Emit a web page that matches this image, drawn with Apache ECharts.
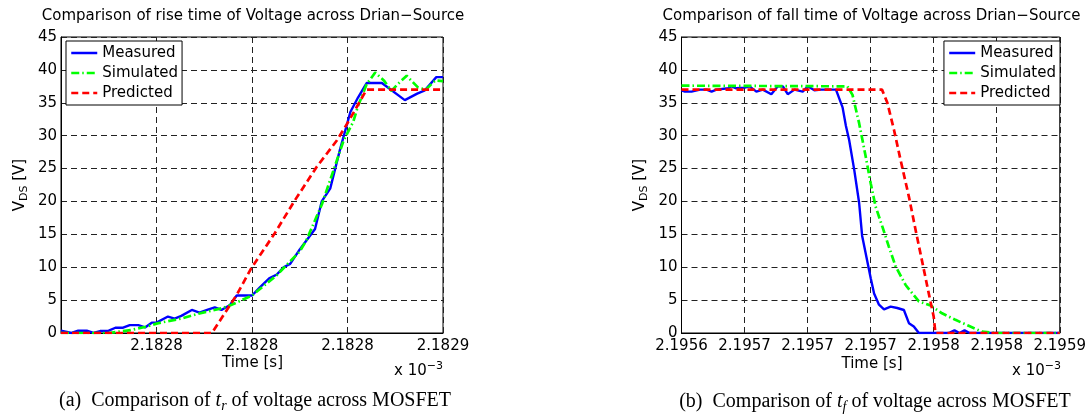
<!DOCTYPE html>
<html><head><meta charset="utf-8">
<script src="https://cdn.jsdelivr.net/npm/echarts@6/dist/echarts.min.js"></script>
<style>html,body{margin:0;padding:0;background:#fff}#c{width:1089px;height:416px}</style>
</head><body><div id="c"></div>
<script>
// ---------- data ----------
// time offsets in ns from the left edge of each panel, voltage in V
const riseTickTimes = [0, 10, 20, 30, 40];
const riseTickLabels = ['', '2.1828', '2.1828', '2.1828', '2.1829'];
const fallTickTimes = [0, 40, 80, 120, 160, 200, 240];
const fallTickLabels = ['2.1956', '2.1957', '2.1957', '2.1957', '2.1958', '2.1958', '2.1959'];
const seriesNames = ['Measured', 'Simulated', 'Predicted'];

const riseMeasured = [[0,0.35],[1.1,0],[1.8,0.35],[2.7,0.35],[3.4,0],[4.1,0.3],[5.0,0.35],[5.7,0.8],[6.5,0.8],[7.2,1.2],[8.1,1.2],[8.8,0.85],[9.5,1.57],[10.0,1.57],[11.2,2.5],[11.9,2.2],[12.6,2.6],[13.7,3.5],[14.5,3.1],[15.3,3.5],[16.1,3.9],[16.8,3.5],[17.7,4.25],[18.4,5.7],[20.0,5.7],[20.8,6.9],[21.8,8.3],[22.6,8.9],[23.3,10.0],[24.0,10.5],[25.0,12.7],[26.6,15.8],[27.3,20.0],[28.2,22.0],[29.2,27.8],[30.3,33.6],[31.1,35.8],[32.0,38.0],[33.6,38.0],[36.0,35.4],[37.3,36.4],[38.1,36.9],[39.3,38.9],[40,38.9]];
const riseSimulated = [[0,0],[5.0,0],[7.3,0.45],[8.9,0.96],[10.1,1.47],[12.6,2.2],[14.3,2.9],[16.8,3.75],[17.8,4.25],[20.0,5.7],[22.6,8.8],[25.0,12.4],[25.7,14.1],[27.3,19.5],[28.2,23.3],[29.6,29.3],[30.6,32.1],[31.1,34.5],[32.0,37.8],[32.9,39.6],[33.8,38.4],[34.6,36.8],[35.3,37.9],[36.2,39.1],[37.4,37.3],[38.2,37.0],[39.2,38.4],[40,38.3]];
const risePredicted = [[0,0],[15.8,0],[18.4,5.8],[19.9,9.8],[22.4,15.2],[24.5,20.2],[26.8,25.3],[28.9,29.3],[30.2,32.4],[32.0,37.0],[40,37.0]];

const fallMeasured = [[0,36.9],[2.2,36.7],[6.4,36.7],[11.7,37.0],[15.9,37.0],[19.1,36.7],[22.2,37.0],[29.6,37.2],[31.7,37.5],[34.8,37.2],[40.1,37.3],[43.2,37.5],[47.5,36.7],[51.6,37.0],[57.0,36.3],[61.1,37.5],[64.3,37.5],[67.4,36.3],[71.7,37.0],[76.9,36.7],[80.1,37.5],[84.3,36.9],[88.5,37.0],[98.0,37.0],[102.2,34.3],[104.3,31.5],[106.4,29.3],[109.6,24.8],[112.7,19.8],[114.6,14.8],[120.1,8.3],[122.2,6.0],[125.3,4.3],[128.5,3.6],[132.7,4.0],[136.9,3.8],[141.1,3.5],[144.3,1.5],[147.4,1.0],[150.6,0],[169.6,0],[173.2,0.4],[176.4,0],[179.6,0.4],[182.8,0],[240,0]];
const fallSimulated = [[0,37.6],[105.3,37.5],[108.5,36.2],[112.7,31.9],[116.9,26.8],[120.1,22.7],[123.2,19.2],[127.4,16.2],[131.6,13.1],[135.9,10.1],[142.2,7.3],[150.6,4.8],[158.0,4.2],[165.3,3.0],[173.8,2.0],[182.2,1.1],[190.6,0.2],[199.0,0],[240,0]];
const fallPredicted = [[0,37.0],[127.2,37.0],[130.6,35.0],[134.8,30.9],[139.0,26.3],[144.3,20.7],[148.5,15.7],[153.8,9.6],[156.9,6.0],[160.0,2.5],[161.1,0],[240,0]];

// ---------- chart ----------
const SANS = 'DejaVu Sans';
const SERIF = 'Liberation Serif';
const FS = 15;

function tickFormatter(times, labels) {
  return function (v) {
    const i = times.findIndex(t => Math.abs(t - v) < 1e-6);
    return i >= 0 ? labels[i] : '';
  };
}
function xAxisFor(gi, times, labels) {
  return {
    type: 'value', gridIndex: gi, min: times[0], max: times[times.length - 1],
    interval: times[1] - times[0],
    axisLine: { show: true, onZero: false, lineStyle: { color: '#000', width: 1 } },
    axisTick: { show: false },
    axisLabel: { color: '#000', fontSize: FS, fontFamily: SANS, margin: 6, formatter: tickFormatter(times, labels) },
    splitLine: { show: true, lineStyle: { color: '#222', width: 1, type: [6, 4] } }
  };
}
function yAxisFor(gi) {
  return {
    type: 'value', gridIndex: gi, min: 0, max: 45, interval: 5,
    axisLine: { show: true, lineStyle: { color: '#000', width: 1 } },
    axisTick: { show: false },
    axisLabel: { color: '#000', fontSize: FS, fontFamily: SANS, margin: 4 },
    splitLine: { show: true, lineStyle: { color: '#222', width: 1, type: [6, 4] } }
  };
}
const styles = {
  Measured: { color: '#0000ff', width: 2.4, type: 'solid' },
  Simulated: { color: '#00ff00', width: 2.7, type: [8, 3, 1.5, 3] },
  Predicted: { color: '#ff0000', width: 2.7, type: [7, 4] }
};
function mkSeries(name, data, ai) {
  const s = styles[name];
  return {
    name: name, type: 'line', xAxisIndex: ai, yAxisIndex: ai, data: data,
    symbol: 'none', showSymbol: false, color: s.color, animation: false,
    lineStyle: { color: s.color, width: s.width, type: s.type }
  };
}
function legendFor(pos) {
  return Object.assign({
    orient: 'vertical', data: seriesNames, selectedMode: false,
    backgroundColor: '#fff', borderColor: '#000', borderWidth: 1, borderRadius: 0,
    padding: [3, 4, 3, 4], itemGap: 2, itemWidth: 26, itemHeight: 14,
    itemStyle: { opacity: 0, borderWidth: 0 },
    lineStyle: { width: 2.5 },
    textStyle: { color: '#000', fontSize: FS, fontFamily: SANS, lineHeight: 18 }
  }, pos);
}
function txt(x, y, text, opts) {
  return Object.assign({
    type: 'text', x: x, y: y, silent: true,
    style: Object.assign({
      text: text, fill: '#000', fontSize: FS, fontFamily: SANS,
      align: 'center', verticalAlign: 'middle', textAlign: 'center', textVerticalAlign: 'middle'
    }, opts && opts.style)
  }, opts && opts.el);
}
const subRich = {
  m: { fontSize: FS, fontFamily: SANS, lineHeight: 20, verticalAlign: 'middle' },
  s: { fontSize: 11, fontFamily: SANS, lineHeight: 11, verticalAlign: 'bottom' },
  p: { fontSize: 11, fontFamily: SANS, lineHeight: 11, verticalAlign: 'top' }
};
const capRich = {
  c: { fontSize: 20, fontFamily: SERIF, lineHeight: 24, verticalAlign: 'middle' },
  i: { fontSize: 20, fontFamily: SERIF, fontStyle: 'italic', lineHeight: 24, verticalAlign: 'middle' },
  s: { fontSize: 14, fontFamily: SERIF, fontStyle: 'italic', lineHeight: 14, verticalAlign: 'bottom' }
};

const option = {
  backgroundColor: '#fff',
  animation: false,
  grid: [
    { left: 61, top: 37, width: 382, height: 296, show: true, borderColor: '#000', borderWidth: 1, backgroundColor: '#fff' },
    { left: 681.5, top: 37, width: 380, height: 296, show: true, borderColor: '#000', borderWidth: 1, backgroundColor: '#fff' }
  ],
  xAxis: [xAxisFor(0, riseTickTimes, riseTickLabels), xAxisFor(1, fallTickTimes, fallTickLabels)],
  yAxis: [yAxisFor(0), yAxisFor(1)],
  legend: [legendFor({ left: 66, top: 41 }), legendFor({ right: 29, top: 41 })],
  series: [
    mkSeries('Measured', riseMeasured, 0),
    mkSeries('Simulated', riseSimulated, 0),
    mkSeries('Predicted', risePredicted, 0),
    mkSeries('Measured', fallMeasured, 1),
    mkSeries('Simulated', fallSimulated, 1),
    mkSeries('Predicted', fallPredicted, 1)
  ],
  graphic: [
    txt(253, 16.5, 'Comparison of rise time of Voltage across Drian\u2212Source'),
    txt(871.5, 16.5, 'Comparison of fall time of Voltage across Drian\u2212Source'),
    txt(252.5, 363, 'Time [s]'),
    txt(872, 364, 'Time [s]'),
    txt(20, 185, '{m|V}{s|DS}{m| [V]}', { style: { rich: subRich }, el: { rotation: Math.PI / 2 } }),
    txt(640, 185, '{m|V}{s|DS}{m| [V]}', { style: { rich: subRich }, el: { rotation: Math.PI / 2 } }),
    txt(443, 371, '{m|x 10}{p|\u22123}', { style: { rich: subRich, align: 'right', textAlign: 'right' } }),
    txt(1061, 371, '{m|x 10}{p|\u22123}', { style: { rich: subRich, align: 'right', textAlign: 'right' } }),
    txt(255, 401, '{c|(a)  Comparison of }{i|t}{s|r}{c| of voltage across MOSFET}', { style: { rich: capRich } }),
    txt(875, 402, '{c|(b)  Comparison of }{i|t}{s|f}{c| of voltage across MOSFET}', { style: { rich: capRich } })
  ]
};
const chart = echarts.init(document.getElementById('c'), null, { renderer: 'canvas' });
chart.setOption(option);
</script>
</body></html>
